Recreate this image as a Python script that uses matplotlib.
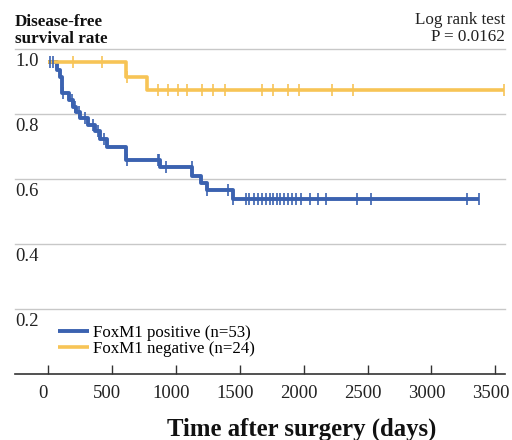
import numpy as np
import matplotlib
matplotlib.use("Agg")
import matplotlib.pyplot as plt
from matplotlib.transforms import ScaledTranslation

plt.rcParams['font.family'] = ['Liberation Serif', 'DejaVu Serif']

# FoxM1 positive (blue)
pos_event_days = [68, 94, 109, 164, 198, 223, 250, 315, 367, 406, 465, 613, 875, 1125, 1199, 1242, 1448]
pos_event_surv = [0.975, 0.955, 0.905, 0.883, 0.862, 0.846, 0.827, 0.805, 0.786, 0.763, 0.739,
                  0.698, 0.678, 0.648, 0.629, 0.605, 0.578]
pos_censor_days = [16, 39, 117, 185, 211, 242, 289, 352, 391, 437, 620, 857, 870, 927, 1123, 1244,
                   1409, 1448, 1552, 1573, 1612, 1641, 1672, 1703, 1734, 1762, 1789, 1816, 1844,
                   1875, 1906, 1943, 1982, 2047, 2115, 2177, 2420, 2529, 3277, 3375]
pos_last_day = 3375

# FoxM1 negative (yellow)
neg_event_days = [609, 773]
neg_event_surv = [0.955, 0.912]
neg_censor_days = [195, 422, 615, 859, 938, 1016, 1086, 1203, 1289, 1383, 1672, 1758, 1875,
                   1961, 2223, 2387, 3565]
neg_last_day = 3565

x_ticks = [0, 500, 1000, 1500, 2000, 2500, 3000, 3500]
y_ticks = [0.2, 0.4, 0.6, 0.8, 1.0]

blue = '#3b62b0'
yellow = '#f7c456'


def km_curve(ax, events, surv, censors, last, color, label, lw):
    xs = [0] + list(events) + [last]
    ys = [1.0] + list(surv) + [surv[-1]]
    ax.plot(xs, ys, drawstyle='steps-post', color=color, lw=lw, label=label,
            solid_capstyle='butt', clip_on=False, zorder=3)
    levels = np.array([1.0] + list(surv))
    idx = np.searchsorted(events, censors, side='right')
    ax.plot(censors, levels[idx], ls='none', marker='|', ms=8, mew=1.2,
            color=color, clip_on=False, zorder=4)


fig = plt.figure(figsize=(5.12, 4.4), dpi=100)
ax = fig.add_axes([15 / 512, 66 / 440, 490 / 512, 330 / 440])

km_curve(ax, pos_event_days, pos_event_surv, pos_censor_days, pos_last_day, blue,
         'FoxM1 positive (n=53)', 2.8)
km_curve(ax, neg_event_days, neg_event_surv, neg_censor_days, neg_last_day, yellow,
         'FoxM1 negative (n=24)', 2.6)

ax.set_xlim(-258, 3575)
ax.set_ylim(0.04, 1.055)

# gridlines sit a little above each label
grid_shift = ax.transData + ScaledTranslation(0, 0.13, fig.dpi_scale_trans)
for v in y_ticks:
    ax.plot([-258, 3575], [v, v], color='#c8c8c8', lw=1.0, transform=grid_shift,
            clip_on=False, zorder=1)
    ax.text(0.0, v, f'{v:.1f}', transform=ax.get_yaxis_transform(), ha='left',
            va='center', fontsize=13.5, color='#222222')

for s in ['top', 'right', 'left']:
    ax.spines[s].set_visible(False)
ax.spines['bottom'].set_color('#333333')
ax.spines['bottom'].set_linewidth(1.2)
ax.set_yticks([])
ax.set_xticks(x_ticks)
ax.tick_params(axis='x', direction='in', length=6.5, width=1.0, color='#333333',
               labelsize=13.5, pad=8, labelcolor='#222222')
for lab in ax.get_xticklabels():
    lab.set_transform(lab.get_transform() + ScaledTranslation(-0.05, 0, fig.dpi_scale_trans))

leg = ax.legend(loc='upper left', bbox_to_anchor=(43 / 490, 0.148), frameon=False,
                fontsize=12.2, handlelength=1.8, handletextpad=0.25, labelspacing=0.0,
                borderpad=0, borderaxespad=0)

fig.text(15 / 512, 1 - 14 / 440, 'Disease-free\nsurvival rate', ha='left', va='top',
         fontsize=12.3, fontweight='bold', linespacing=1.05, color='#111111')
fig.text(505 / 512, 1 - 12 / 440, 'Log rank test\nP = 0.0162', ha='right', va='top',
         fontsize=12.3, linespacing=1.05, color='#222222')
fig.text(302 / 512, 4 / 440, 'Time after surgery (days)', ha='center', va='baseline',
         fontsize=17.8, fontweight='bold', color='#111111')

fig.savefig('out.png', dpi=100)
